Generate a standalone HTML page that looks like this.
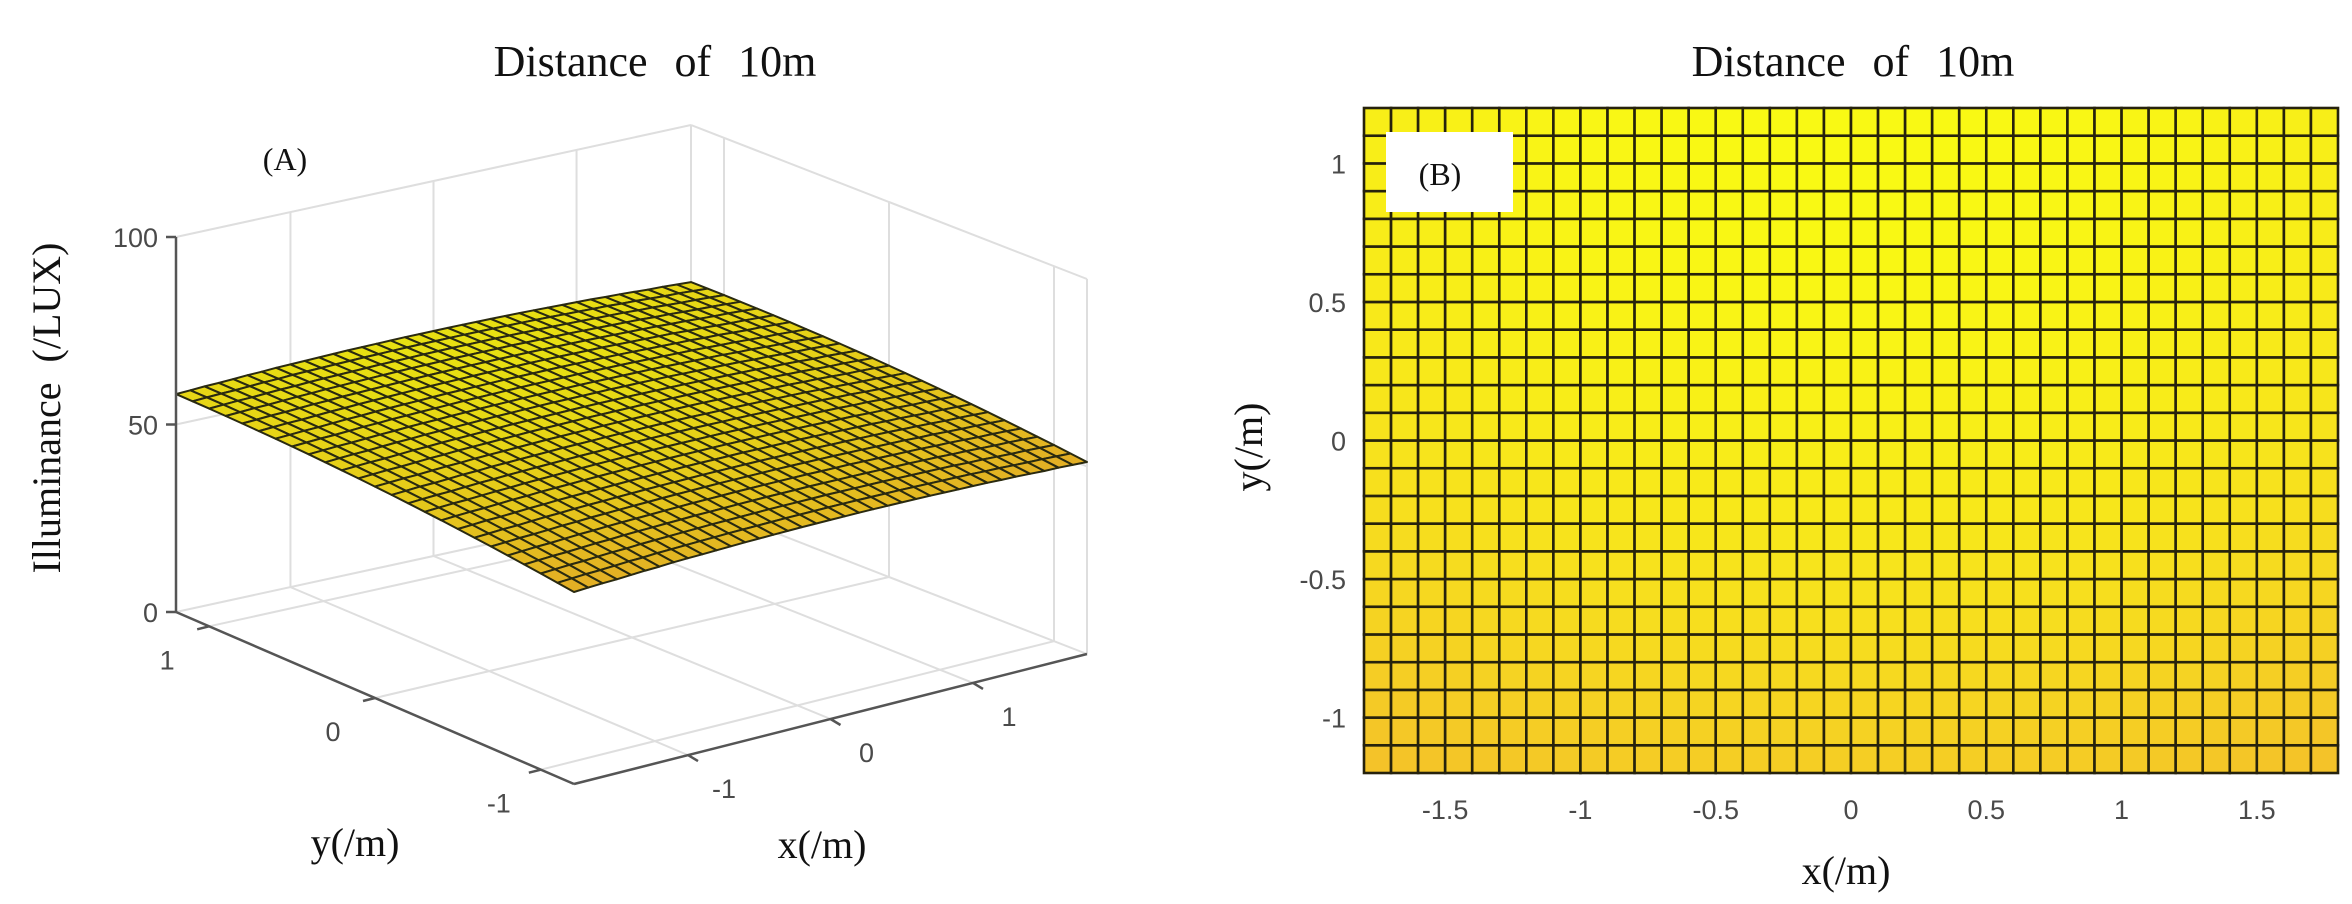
<!DOCTYPE html>
<html><head><meta charset="utf-8"><style>
html,body{margin:0;padding:0;background:#fff;}
svg{display:block;}
.serif{font-family:"Liberation Serif",serif;fill:#111;}
.tick{font-family:"Liberation Sans",sans-serif;fill:#4a4a4a;font-size:27px;}
</style></head><body>
<svg id="fig" width="2352" height="904" viewBox="0 0 2352 904" xmlns="http://www.w3.org/2000/svg">
<g id="left">
<g id="walls"></g>
<g id="surf"></g>
<g id="axes3d"></g>
<text class="serif" x="655" y="76" font-size="44" text-anchor="middle" word-spacing="16">Distance of 10m</text>
<text class="serif" x="285" y="170" font-size="32" text-anchor="middle">(A)</text>
<text class="serif" x="0" y="0" font-size="40" text-anchor="middle" word-spacing="10" transform="translate(60,408) rotate(-90)">Illuminance (/LUX)</text>
<text class="serif" x="355" y="856" font-size="40" text-anchor="middle">y(/m)</text>
<text class="serif" x="822" y="858" font-size="40" text-anchor="middle">x(/m)</text>
</g>
<g id="right">
<text class="serif" x="1853" y="76" font-size="44" text-anchor="middle" word-spacing="16">Distance of 10m</text>
<g id="cells"></g>
<rect x="1386" y="132" width="127" height="80" fill="#fff"/>
<text class="serif" x="1440" y="185" font-size="32" text-anchor="middle">(B)</text>
<g id="ticks2d"></g>
<text class="serif" x="1846" y="884" font-size="40" text-anchor="middle">x(/m)</text>
<text class="serif" x="0" y="0" font-size="40" text-anchor="middle" transform="translate(1262,447) rotate(-90)">y(/m)</text>
</g>
</svg>
<script>
// ---- data ----
const xs = [-1.8,-1.7,-1.6,-1.5,-1.4,-1.3,-1.2,-1.1,-1.0,-0.9,-0.8,-0.7,-0.6,-0.5,-0.4,-0.3,-0.2,-0.1,0,0.1,0.2,0.3,0.4,0.5,0.6,0.7,0.8,0.9,1.0,1.1,1.2,1.3,1.4,1.5,1.6,1.7,1.8];
const ys = [-1.2,-1.1,-1.0,-0.9,-0.8,-0.7,-0.6,-0.5,-0.4,-0.3,-0.2,-0.1,0,0.1,0.2,0.3,0.4,0.5,0.6,0.7,0.8,0.9,1.0,1.1,1.2];
// illuminance along the y=1.2 edge for each x (lux)
const zByX = [58.1,58.3,58.5,58.6,58.8,59.0,59.1,59.3,59.4,59.5,59.6,59.7,59.8,59.85,59.9,59.95,60.0,60.0,60.0,60.0,60.0,59.95,59.9,59.85,59.8,59.7,59.6,59.5,59.4,59.3,59.1,59.0,58.8,58.6,58.5,58.3,58.1];
// change in illuminance for each y row relative to the y=1.2 edge (lux)
const zOffsetByY = [-6.9,-6.35,-5.8,-5.3,-4.8,-4.33,-3.89,-3.47,-3.07,-2.7,-2.35,-2.03,-1.73,-1.45,-1.2,-0.97,-0.77,-0.59,-0.43,-0.3,-0.19,-0.11,-0.05,-0.01,0];
const zTicks = [0,50,100];
const zTickLabels = ["0","50","100"];
const xTicks3d = [-1,0,1];
const xTickLabels3d = ["-1","0","1"];
const yTicks3d = [-1,0,1];
const yTickLabels3d = ["-1","0","1"];
const xTicks2d = [-1.5,-1,-0.5,0,0.5,1,1.5];
const xTickLabels2d = ["-1.5","-1","-0.5","0","0.5","1","1.5"];
const yTicks2d = [-1,-0.5,0,0.5,1];
const yTickLabels2d = ["-1","-0.5","0","0.5","1"];

const NS="http://www.w3.org/2000/svg";
function mk(tag,attrs,parent){const e=document.createElementNS(NS,tag);for(const k in attrs)e.setAttribute(k,attrs[k]);parent.appendChild(e);return e;}
function Z(i,j){return zByX[i]+zOffsetByY[j];}
function color(z,dark){let t=(z-50)/10;t=Math.max(0,Math.min(1,t));
 let r=243+(250-243)*t,g=185+(250-185)*t,b=45+(20-45)*t;
 if(dark){r*=0.93;g*=0.9;b*=0.9;}
 return `rgb(${r|0},${g|0},${b|0})`;}
const xMin=-1.8,xMax=1.8,yMin=-1.2,yMax=1.2;
// ---- 3D projection ----
const PA=[176,612],PB=[574,784],PC=[1087,654],PD=[691,500],ZS=3.75;
function P3(x,y,z){const u=(x-xMin)/(xMax-xMin),v=(y-yMin)/(yMax-yMin);
 const px=PB[0]*(1-u)*(1-v)+PC[0]*u*(1-v)+PA[0]*(1-u)*v+PD[0]*u*v;
 const py=PB[1]*(1-u)*(1-v)+PC[1]*u*(1-v)+PA[1]*(1-u)*v+PD[1]*u*v;
 return [px,py-z*ZS];}
const walls=document.getElementById('walls');
function gl(p,q,name){const l=mk('line',{x1:p[0],y1:p[1],x2:q[0],y2:q[1],stroke:'#dedede','stroke-width':2},walls);
 
 }
[xMin,-1,0,1,xMax].forEach(x=>gl(P3(x,yMax,0),P3(x,yMax,100),'wall-gridline-x'));
[0,50,100].forEach(z=>gl(P3(xMin,yMax,z),P3(xMax,yMax,z),'wall-gridline-z'));
[yMin,-1,0,1].forEach(y=>gl(P3(xMax,y,0),P3(xMax,y,100),'wall-gridline-y'));
[0,50,100].forEach(z=>gl(P3(xMax,yMin,z),P3(xMax,yMax,z),'wall-gridline-z'));
xTicks3d.forEach(x=>gl(P3(x,yMin,0),P3(x,yMax,0),'floor-gridline-x'));
yTicks3d.forEach(y=>gl(P3(xMin,y,0),P3(xMax,y,0),'floor-gridline-y'));
// surface
const surf=document.getElementById('surf');
const quads=[];
for(let j=0;j<ys.length-1;j++)for(let i=0;i<xs.length-1;i++){
 const pts=[P3(xs[i],ys[j],Z(i,j)),P3(xs[i+1],ys[j],Z(i+1,j)),P3(xs[i+1],ys[j+1],Z(i+1,j+1)),P3(xs[i],ys[j+1],Z(i,j+1))];
 const zc=(Z(i,j)+Z(i+1,j)+Z(i+1,j+1)+Z(i,j+1))/4;
 const depth=P3((xs[i]+xs[i+1])/2,(ys[j]+ys[j+1])/2,0)[1];
 quads.push({pts,zc,depth});}
quads.sort((a,b)=>a.depth-b.depth);
quads.forEach(q=>{const p=mk('polygon',{points:q.pts.map(p=>p[0].toFixed(1)+','+p[1].toFixed(1)).join(' '),fill:color(q.zc,true),stroke:'#2a2a10','stroke-width':2,'stroke-linejoin':'round'},surf);
 
 });
// axes
const ax=document.getElementById('axes3d');
function al(p,q,name){const l=mk('line',{x1:p[0],y1:p[1],x2:q[0],y2:q[1],stroke:'#555','stroke-width':2.5},ax);
 
 }
al([PA[0],P3(xMin,yMax,0)[1]],[PA[0],P3(xMin,yMax,100)[1]],'z-axis-line');
al(P3(xMin,yMax,0),P3(xMin,yMin,0),'y-axis-line');
al(P3(xMin,yMin,0),P3(xMax,yMin,0),'x-axis-line');
zTicks.forEach((z,k)=>{const p=P3(xMin,yMax,z);
 al([p[0]-10,p[1]],p,'z-tick');
 const t=mk('text',{x:p[0]-18,y:p[1]+10,'text-anchor':'end',class:'tick'},ax);t.textContent=zTickLabels[k];
 
 });
yTicks3d.forEach((y,k)=>{const p=P3(xMin,y,0);
 al([p[0]-12,p[1]+3],p,'y-tick');
 const t=mk('text',{x:p[0]-42,y:p[1]+43,'text-anchor':'middle',class:'tick'},ax);t.textContent=yTickLabels3d[k];
 
 });
xTicks3d.forEach((x,k)=>{const p=P3(x,yMin,0);
 al([p[0]+10,p[1]+6],p,'x-tick');
 const t=mk('text',{x:p[0]+36,y:p[1]+43,'text-anchor':'middle',class:'tick'},ax);t.textContent=xTickLabels3d[k];
 
 });
// ---- 2D view ----
const L=1364,R=2338,T=108,Bt=773;
function X2(x){return L+(x-xMin)/(xMax-xMin)*(R-L);}
function Y2(y){return Bt-(y-yMin)/(yMax-yMin)*(Bt-T);}
const cells=document.getElementById('cells');
for(let j=0;j<ys.length-1;j++)for(let i=0;i<xs.length-1;i++){
 const zc=(Z(i,j)+Z(i+1,j)+Z(i+1,j+1)+Z(i,j+1))/4;
 const r=mk('rect',{x:X2(xs[i]).toFixed(2),y:Y2(ys[j+1]).toFixed(2),width:(X2(xs[i+1])-X2(xs[i])).toFixed(2),height:(Y2(ys[j])-Y2(ys[j+1])).toFixed(2),fill:color(zc,false),stroke:'#26220c','stroke-width':2.6},cells);
 
 }
const tk=document.getElementById('ticks2d');
xTicks2d.forEach((x,k)=>{const t=mk('text',{x:X2(x),y:819,'text-anchor':'middle',class:'tick'},tk);t.textContent=xTickLabels2d[k];
 
 });
yTicks2d.forEach((y,k)=>{const t=mk('text',{x:1346,y:Y2(y)+10,'text-anchor':'end',class:'tick'},tk);t.textContent=yTickLabels2d[k];
 
 });
</script>
</body></html>
